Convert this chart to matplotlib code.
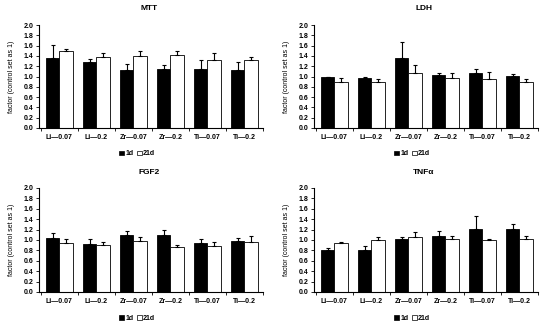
import numpy as np
from matplotlib import pyplot as plt
from matplotlib.patches import Patch

plt.rcParams['font.family'] = ['Liberation Sans', 'DejaVu Sans']
plt.rcParams['font.weight'] = 'bold'

groups = ["Li\u20140.07", "Li\u20140.2", "Zr\u20140.07", "Zr\u20140.2", "Ti\u20140.07", "Ti\u20140.2"]
titles = ["MTT", "LDH", "FGF2", "TNF\u03b1"]

# mean values and (upper) errors, 1 day and 21 days
mtt_1d = [1.36, 1.28, 1.13, 1.15, 1.15, 1.12]
mtt_1d_err = [0.25, 0.06, 0.11, 0.07, 0.17, 0.16]
mtt_21d = [1.50, 1.37, 1.39, 1.42, 1.32, 1.32]
mtt_21d_err = [0.04, 0.09, 0.10, 0.08, 0.14, 0.06]

ldh_1d = [0.99, 0.97, 1.35, 1.02, 1.07, 1.01]
ldh_1d_err = [0.01, 0.02, 0.32, 0.05, 0.08, 0.04]
ldh_21d = [0.89, 0.89, 1.07, 0.98, 0.96, 0.90]
ldh_21d_err = [0.08, 0.06, 0.16, 0.09, 0.13, 0.05]

fgf_1d = [1.03, 0.93, 1.10, 1.10, 0.95, 0.99]
fgf_1d_err = [0.10, 0.08, 0.08, 0.09, 0.06, 0.04]
fgf_21d = [0.95, 0.91, 0.98, 0.86, 0.88, 0.96]
fgf_21d_err = [0.07, 0.05, 0.07, 0.05, 0.08, 0.11]

tnf_1d = [0.81, 0.81, 1.01, 1.07, 1.21, 1.21]
tnf_1d_err = [0.04, 0.07, 0.05, 0.10, 0.25, 0.10]
tnf_21d = [0.95, 1.00, 1.06, 1.02, 1.00, 1.02]
tnf_21d_err = [0.01, 0.06, 0.10, 0.06, 0.02, 0.06]

panels = [
    (titles[0], mtt_1d, mtt_1d_err, mtt_21d, mtt_21d_err),
    (titles[1], ldh_1d, ldh_1d_err, ldh_21d, ldh_21d_err),
    (titles[2], fgf_1d, fgf_1d_err, fgf_21d, fgf_21d_err),
    (titles[3], tnf_1d, tnf_1d_err, tnf_21d, tnf_21d_err),
]

W, H = 550, 323
fig = plt.figure(figsize=(W / 100, H / 100), dpi=100)

# axes boxes in pixels: (left, top, right, bottom)
boxes = [(39, 25, 263, 128), (314, 25, 538, 128),
         (39, 188, 263, 292), (314, 188, 538, 292)]

x = np.arange(len(groups))
bw = 0.36

for (title, a, ae, b, be), (l, t, r, bt) in zip(panels, boxes):
    ax = fig.add_axes([l / W, 1 - bt / H, (r - l) / W, (bt - t) / H])
    ax.bar(x - bw / 2, a, bw, color="black", edgecolor="black", linewidth=0.6,
           yerr=[np.zeros(len(a)), ae], error_kw=dict(elinewidth=0.8, capsize=1.5, capthick=0.8, ecolor="black"))
    ax.bar(x + bw / 2, b, bw, color="white", edgecolor="black", linewidth=0.6,
           yerr=[np.zeros(len(b)), be], error_kw=dict(elinewidth=0.8, capsize=1.5, capthick=0.8, ecolor="black"))
    ax.set_xlim(-0.55, 5.5)
    ax.set_ylim(0, 2.0)
    ax.set_yticks(np.arange(0, 2.01, 0.2))
    ax.set_yticklabels([f"{v:.1f}" for v in np.arange(0, 2.01, 0.2)])
    ax.set_xticks(x)
    ax.set_xticklabels(groups)
    ax.set_xticks(np.arange(-0.5, 5.6, 1), minor=True)
    ax.tick_params(axis="x", which="major", length=0, labelsize=5, pad=4)
    ax.tick_params(axis="x", which="minor", length=2, width=0.6)
    ax.tick_params(axis="y", length=2, width=0.6, labelsize=5, pad=2)
    for s in ["top", "right"]:
        ax.spines[s].set_visible(False)
    for s in ["left", "bottom"]:
        ax.spines[s].set_linewidth(0.8)
    ax.set_ylabel("factor (control set as 1)", fontsize=5, labelpad=6)
    cx = (l + r) / 2 - 2
    fig.text(cx / W, 1 - (t - 16) / H, title, ha="center", va="center", fontsize=6)
    handles = [Patch(facecolor="black", edgecolor="black", linewidth=0.5, label="1d"),
               Patch(facecolor="white", edgecolor="black", linewidth=0.5, label="21d")]
    fig.legend(handles=handles, loc="center", bbox_to_anchor=((l + 98) / W, 1 - (bt + 26) / H),
               ncol=2, frameon=False, fontsize=5, handlelength=0.7, handleheight=0.7,
               handletextpad=0.2, columnspacing=0.5, borderpad=0)

fig.savefig("out.png", dpi=100)
